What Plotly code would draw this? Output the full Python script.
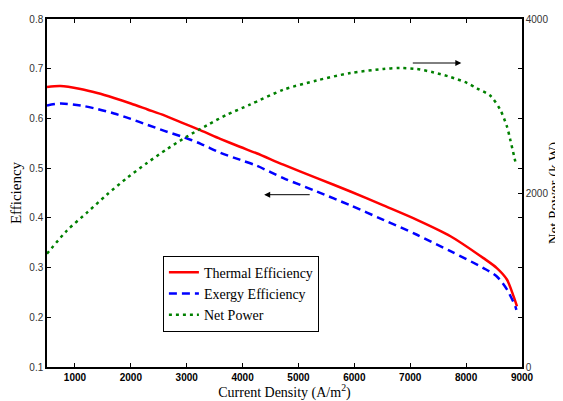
import plotly.graph_objects as go

# Current density (A/m^2) and values
thermal_x = [500, 740, 1100, 1400, 1700, 2000, 2300, 2600, 2900, 3250, 3600, 3950,
             4250, 4730, 5330, 5930, 6520, 7120, 7720, 8310, 8550, 8730, 8850, 8910]
thermal_eff = [0.663, 0.665, 0.659, 0.651, 0.641, 0.630, 0.618, 0.606, 0.592, 0.576,
               0.559, 0.543, 0.530, 0.507, 0.480, 0.453, 0.425, 0.396, 0.363, 0.319,
               0.299, 0.276, 0.242, 0.222]

exergy_x = [500, 740, 1100, 1400, 1700, 2000, 2300, 2600, 2900, 3250, 3600, 3950,
            4250, 4730, 5330, 5930, 6520, 7120, 7720, 8310, 8550, 8730, 8880, 8900]
exergy_eff = [0.626, 0.630, 0.626, 0.619, 0.610, 0.599, 0.587, 0.575, 0.564, 0.549,
              0.531, 0.517, 0.505, 0.480, 0.453, 0.425, 0.396, 0.366, 0.333, 0.299,
              0.282, 0.256, 0.222, 0.215]

power_x = [500, 860, 1220, 1570, 1930, 2290, 2650, 3010, 3370, 3720, 4130, 4730, 5330,
           5930, 6520, 6820, 7120, 7420, 7720, 8020, 8200, 8430, 8610, 8730, 8790, 8880]
net_power = [1302, 1570, 1777, 1980, 2172, 2345, 2506, 2651, 2781, 2900, 3015, 3187,
             3294, 3379, 3425, 3437, 3425, 3386, 3333, 3264, 3200, 3120, 2957, 2766,
             2613, 2363]

x_ticks = [1000, 2000, 3000, 4000, 5000, 6000, 7000, 8000, 9000]
y_ticks = [0.1, 0.2, 0.3, 0.4, 0.5, 0.6, 0.7, 0.8]
y2_ticks = [0, 2000, 4000]

serif = "Times New Roman, Liberation Serif, serif"
sans = "Liberation Sans"

fig = go.Figure()
fig.add_trace(go.Scatter(x=thermal_x, y=thermal_eff, mode="lines", name="Thermal Efficiency",
                         line=dict(color="#ff0000", width=2.5, shape="spline", smoothing=0.8)))
fig.add_trace(go.Scatter(x=exergy_x, y=exergy_eff, mode="lines", name="Exergy Efficiency",
                         line=dict(color="#0000ff", width=2.5, dash="8px,5px",
                                   shape="spline", smoothing=0.8)))
fig.add_trace(go.Scatter(x=power_x, y=net_power, mode="lines", name="Net Power", yaxis="y2",
                         line=dict(color="#008000", width=2.5, dash="3px,4px",
                                   shape="spline", smoothing=0.8)))

axis_common = dict(showline=True, linecolor="black", linewidth=1.5, ticks="inside",
                   ticklen=4, tickcolor="black", showgrid=False, zeroline=False,
                   automargin=False)

# the page body adds an 8px offset, so the figure is 8px smaller than the window
fig.update_layout(
    width=555, height=393,
    margin=dict(l=39, r=41, t=11, b=34),
    paper_bgcolor="white", plot_bgcolor="white",
    font=dict(family=serif, color="black"),
    xaxis=dict(range=[500, 9000], tickvals=x_ticks, mirror="ticks",
               tickfont=dict(family=sans, size=10, color="black", weight="bold"),
               title=dict(text="Current Density (A/m<sup>2</sup>)",
                          font=dict(family=serif, size=14, color="black"), standoff=4),
               **axis_common),
    yaxis=dict(range=[0.1, 0.8], tickvals=y_ticks, tickformat=".1f", mirror="ticks",
               tickfont=dict(family=sans, size=10, color="#333"),
               title=dict(text="Efficiency", font=dict(family=serif, size=15, color="black"),
                          standoff=6),
               **axis_common),
    yaxis2=dict(range=[0, 4000], tickvals=y2_ticks, overlaying="y", side="right",
                tickfont=dict(family=sans, size=10, color="#333"),
                title=dict(text="Net Power (k W)", font=dict(family=serif, size=15, color="black"),
                           standoff=1),
                **axis_common),
    legend=dict(x=0.244, y=0.32, xanchor="left", yanchor="top",
                bgcolor="white", bordercolor="black", borderwidth=1,
                font=dict(family=serif, size=14, color="black", weight="normal"),
                tracegroupgap=0, itemwidth=30),
    showlegend=True,
)

fig.add_annotation(x=7914, y=0.7115, ax=7019, ay=0.7115, xref="x", yref="y",
                   axref="x", ayref="y", showarrow=True, arrowhead=2, arrowsize=1.2,
                   arrowwidth=1, arrowcolor="black", text="")
fig.add_annotation(x=4386, y=0.4466, ax=5228, ay=0.4466, xref="x", yref="y",
                   axref="x", ayref="y", showarrow=True, arrowhead=2, arrowsize=1.2,
                   arrowwidth=1, arrowcolor="black", text="")

fig.write_html("out.html")
